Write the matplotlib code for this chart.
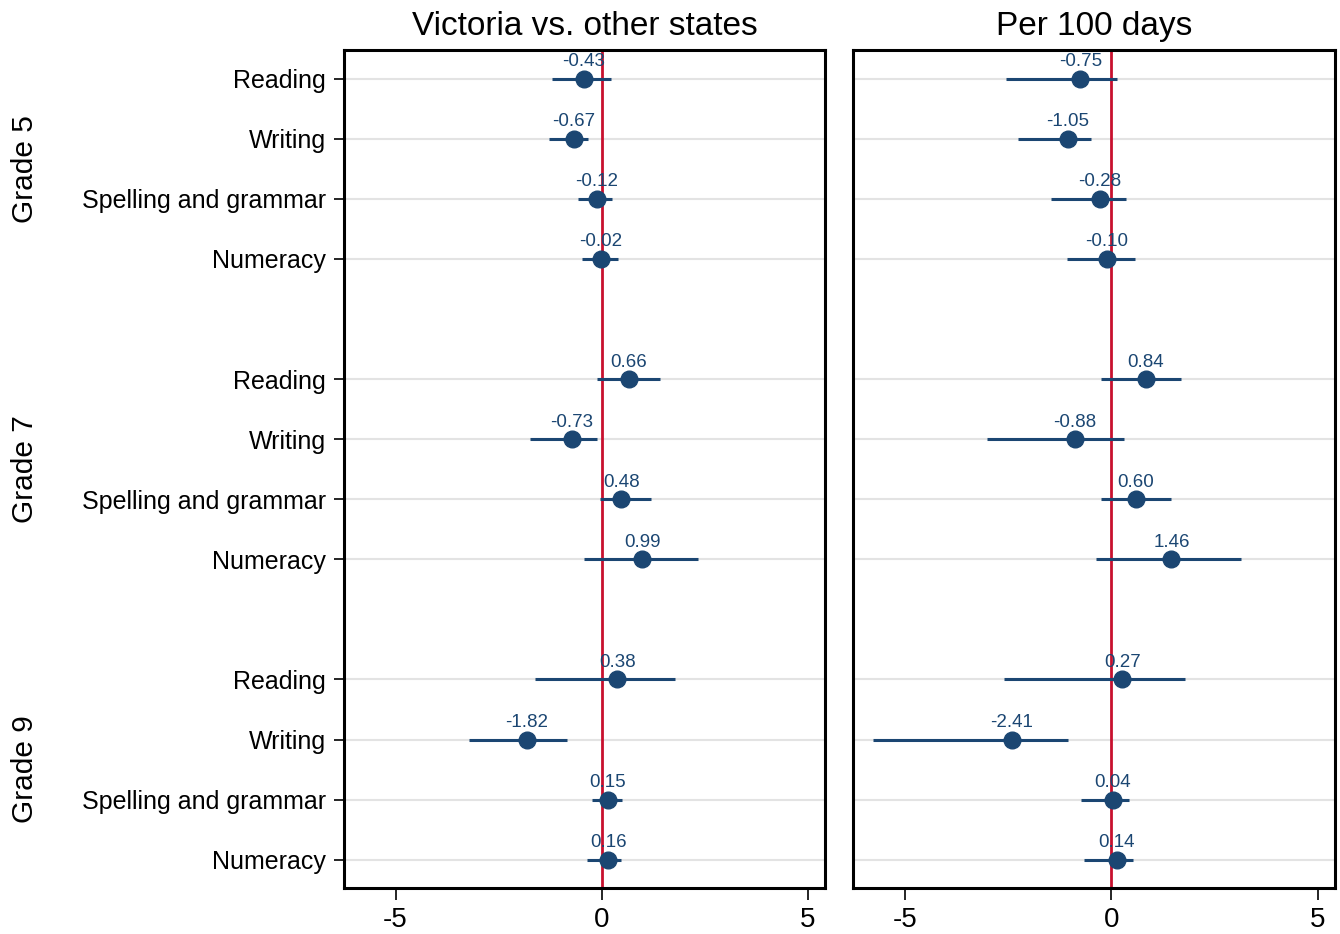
import matplotlib
matplotlib.use("Agg")
import matplotlib.pyplot as plt
import numpy as np

plt.rcParams['font.family'] = ['Liberation Sans', 'DejaVu Sans']

subjects = ["Reading", "Writing", "Spelling and grammar", "Numeracy"]
grades = ["Grade 5", "Grade 7", "Grade 9"]

# Panel 1: Victoria vs. other states
vic_est = [-0.43, -0.67, -0.12, -0.02,
           0.66, -0.73, 0.48, 0.99,
           0.38, -1.82, 0.15, 0.16]
vic_lo = [-1.20, -1.28, -0.57, -0.48,
          -0.12, -1.74, -0.04, -0.43,
          -1.62, -3.22, -0.24, -0.35]
vic_hi = [0.22, -0.32, 0.26, 0.39,
          1.41, -0.12, 1.19, 2.33,
          1.77, -0.85, 0.50, 0.48]

# Panel 2: Per 100 days
per_est = [-0.75, -1.05, -0.28, -0.10,
           0.84, -0.88, 0.60, 1.46,
           0.27, -2.41, 0.04, 0.14]
per_lo = [-2.55, -2.25, -1.46, -1.07,
          -0.25, -3.00, -0.25, -0.36,
          -2.59, -5.77, -0.72, -0.65]
per_hi = [0.14, -0.48, 0.37, 0.57,
          1.69, 0.30, 1.45, 3.15,
          1.78, -1.05, 0.42, 0.53]

titles = ["Victoria vs. other states", "Per 100 days"]
xticks = [-5, 0, 5]

navy = "#1B4672"
red = "#C8102E"

# row positions: 4 subjects per grade, with a blank row between grades
ypos = []
for g in range(len(grades)):
    for s in range(len(subjects)):
        ypos.append(g * (len(subjects) + 1) + s + 1)
ypos = np.array(ypos)
ylabels = subjects * len(grades)

fig = plt.figure(figsize=(13.4, 9.34), dpi=100)
ax1 = fig.add_axes([0.2567, 0.0493, 0.3590, 0.8973])
ax2 = fig.add_axes([0.6366, 0.0493, 0.3597, 0.8973])

for ax, est, lo, hi, title in [(ax1, vic_est, vic_lo, vic_hi, titles[0]),
                               (ax2, per_est, per_lo, per_hi, titles[1])]:
    est = np.array(est); lo = np.array(lo); hi = np.array(hi)
    for y in ypos:
        ax.axhline(y, color="#e3e3e3", lw=1.5, zorder=0)
    ax.axvline(0, color=red, lw=2, zorder=1)
    ax.hlines(ypos, lo, hi, color=navy, lw=2.2, zorder=2)
    ax.plot(est, ypos, 'o', color=navy, ms=12, zorder=3)
    for x, y in zip(est, ypos):
        ax.annotate(f"{x:.2f}", (x, y), xytext=(0, 9), textcoords="offset points",
                    ha="center", va="baseline", fontsize=13.5, color=navy, zorder=4)
    ax.set_xlim(-6.25, 5.42)
    ax.set_ylim(14.47, 0.52)
    ax.set_xticks(xticks)
    ax.set_xticklabels([str(t) for t in xticks], fontsize=20)
    ax.set_yticks(ypos)
    ax.tick_params(axis='x', length=8.5, width=1.2, pad=5)
    ax.tick_params(axis='y', length=7, width=1.2, pad=6)
    for sp in ax.spines.values():
        sp.set_linewidth(2.2)
    ax.set_title(title, fontsize=24, pad=11)

ax1.set_yticklabels(ylabels, fontsize=18)
ax2.set_yticklabels([])
ax2.tick_params(axis='y', length=0)

# Grade labels
for g, name in enumerate(grades):
    yc = ypos[g * 4:(g + 1) * 4].mean()
    disp = ax1.transData.transform((0, yc))
    fy = fig.transFigure.inverted().transform(disp)[1]
    fig.text(0.0187, fy, name, rotation=90, fontsize=21.5, ha="center", va="center")

fig.savefig("out.png", dpi=100)
